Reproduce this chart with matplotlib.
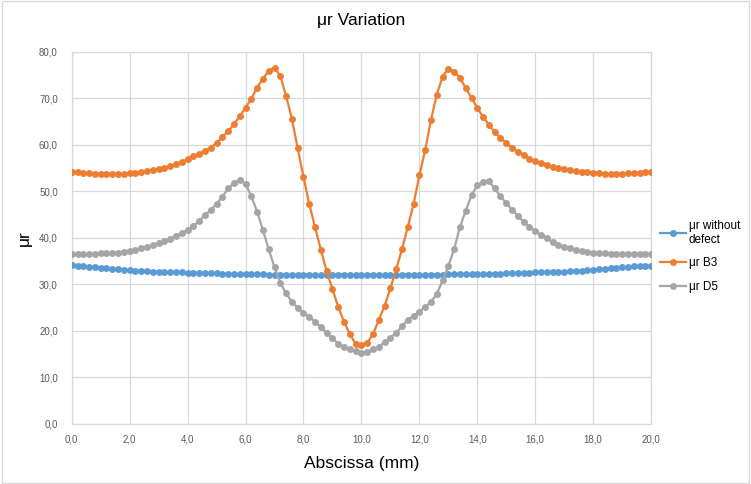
import numpy as np
import matplotlib
matplotlib.use("Agg")
import matplotlib.pyplot as plt
from matplotlib.patches import Rectangle

# ---- data ----
x_mm = [round(0.2 * i, 1) for i in range(101)]

mu_without_defect = [
    34.1, 34.0, 33.8, 33.7, 33.6, 33.5, 33.4, 33.3, 33.2, 33.1,
    33.0, 32.9, 32.9, 32.8, 32.7, 32.7, 32.6, 32.6, 32.5, 32.5,
    32.4, 32.4, 32.4, 32.3, 32.3, 32.3, 32.2, 32.2, 32.2, 32.1,
    32.1, 32.1, 32.1, 32.1, 32.0, 32.0, 32.0, 32.0, 32.0, 32.0,
    32.0, 32.0, 32.0, 32.0, 32.0, 32.0, 32.0, 32.0, 32.0, 32.0,
    32.0, 32.0, 32.0, 32.0, 32.0, 32.0, 32.0, 32.0, 32.0, 32.0,
    32.0, 32.0, 32.0, 32.0, 32.0, 32.1, 32.1, 32.1, 32.1, 32.1,
    32.1, 32.2, 32.2, 32.2, 32.2, 32.3, 32.3, 32.3, 32.4, 32.4,
    32.5, 32.5, 32.6, 32.6, 32.7, 32.7, 32.8, 32.8, 32.9, 33.0,
    33.1, 33.2, 33.3, 33.4, 33.5, 33.6, 33.7, 33.8, 33.9, 34.0,
    34.0,
]

mu_B3 = [
    54.2, 54.1, 54.0, 53.9, 53.8, 53.8, 53.7, 53.7, 53.7, 53.8,
    53.9, 54.0, 54.1, 54.3, 54.5, 54.7, 55.0, 55.4, 55.8, 56.3,
    56.9, 57.5, 58.1, 58.7, 59.4, 60.3, 61.7, 62.9, 64.4, 66.1,
    68.0, 69.9, 72.3, 74.2, 75.9, 76.6, 74.8, 70.5, 65.6, 59.2,
    53.1, 47.2, 42.2, 37.4, 32.8, 28.9, 25.1, 21.9, 19.2, 17.2,
    17.0, 17.4, 19.2, 22.3, 25.3, 29.1, 33.2, 37.5, 42.3, 47.2,
    53.4, 58.8, 65.3, 70.8, 74.6, 76.4, 75.7, 74.4, 72.2, 70.1,
    67.9, 66.0, 64.3, 62.8, 61.5, 60.4, 59.3, 58.5, 57.7, 57.0,
    56.5, 56.0, 55.6, 55.2, 55.0, 54.7, 54.5, 54.3, 54.2, 54.1,
    54.0, 53.9, 53.8, 53.7, 53.8, 53.8, 53.9, 53.9, 54.0, 54.1,
    54.2,
]

mu_D5 = [
    36.5, 36.5, 36.5, 36.5, 36.5, 36.6, 36.6, 36.7, 36.8, 37.0,
    37.2, 37.4, 37.7, 38.0, 38.4, 38.8, 39.3, 39.8, 40.4, 41.0,
    41.6, 42.5, 43.6, 44.8, 46.0, 47.3, 48.8, 50.6, 51.8, 52.4,
    51.6, 48.9, 45.6, 41.6, 37.5, 33.6, 30.3, 28.0, 26.2, 24.9,
    23.8, 23.0, 21.9, 20.8, 19.5, 18.3, 17.2, 16.5, 16.0, 15.5,
    15.2, 15.4, 16.0, 16.5, 17.5, 18.5, 19.5, 20.9, 22.3, 23.2,
    24.0, 25.1, 26.2, 27.8, 30.8, 33.9, 37.5, 42.3, 45.8, 49.1,
    51.3, 52.0, 52.2, 50.6, 48.9, 47.4, 46.0, 44.7, 43.4, 42.3,
    41.4, 40.6, 39.9, 39.1, 38.5, 38.0, 37.7, 37.4, 37.2, 37.0,
    36.8, 36.7, 36.6, 36.5, 36.5, 36.5, 36.5, 36.5, 36.5, 36.5,
    36.5,
]

series_names = ["\u03bcr without\ndefect", "\u03bcr B3", "\u03bcr D5"]
series_colors = ["#5B9BD5", "#ED7D31", "#A5A5A5"]

x_ticks = [0, 2, 4, 6, 8, 10, 12, 14, 16, 18, 20]
x_tick_labels = ["0,0", "2,0", "4,0", "6,0", "8,0", "10,0", "12,0", "14,0", "16,0", "18,0", "20,0"]
y_ticks = [0, 10, 20, 30, 40, 50, 60, 70, 80]
y_tick_labels = ["0,0", "10,0", "20,0", "30,0", "40,0", "50,0", "60,0", "70,0", "80,0"]

title_text = "\u03bcr Variation"
x_label = "Abscissa (mm)"
y_label = "\u03bcr"

# ---- figure ----
plt.rcParams['font.family'] = ['Liberation Sans', 'DejaVu Sans']
fig = plt.figure(figsize=(7.51, 4.84), dpi=100)
fig.patch.set_facecolor("white")
fig.patches.append(Rectangle((0.002, 0.003), 0.996, 0.994, transform=fig.transFigure,
                             fill=False, edgecolor="#D9D9D9", linewidth=1.0))

ax = fig.add_axes([0.0955, 0.125, 0.7715, 0.768])

for vals, name, col in zip([mu_without_defect, mu_B3, mu_D5], series_names, series_colors):
    ax.plot(x_mm, vals, color=col, linewidth=1.6, marker="o", markersize=5.0,
            markeredgewidth=0, label=name, zorder=3)

ax.set_xlim(0, 20)
ax.set_ylim(0, 80)
ax.set_xticks(x_ticks)
ax.set_xticklabels(x_tick_labels)
ax.set_yticks(y_ticks)
ax.set_yticklabels(y_tick_labels)
ax.tick_params(axis="both", length=0, labelsize=7, labelcolor="#595959")
ax.tick_params(axis="x", pad=8)
ax.tick_params(axis="y", pad=10)
ax.grid(True, color="#D9D9D9", linewidth=0.9, zorder=0)
for s in ax.spines.values():
    s.set_color("#D9D9D9")
    s.set_linewidth(0.9)

ax.set_title(title_text, fontsize=12.5, color="#000000", pad=19)
ax.set_xlabel(x_label, fontsize=12.5, labelpad=8)
ax.set_ylabel(y_label, fontsize=12.5, labelpad=5)

leg = fig.legend(loc="center left", bbox_to_anchor=(0.873, 0.47), frameon=False,
                 fontsize=8.5, handlelength=2.2, handletextpad=0.2, labelspacing=1.0,
                 borderaxespad=0)

fig.savefig("out.png", dpi=100, facecolor="white")
